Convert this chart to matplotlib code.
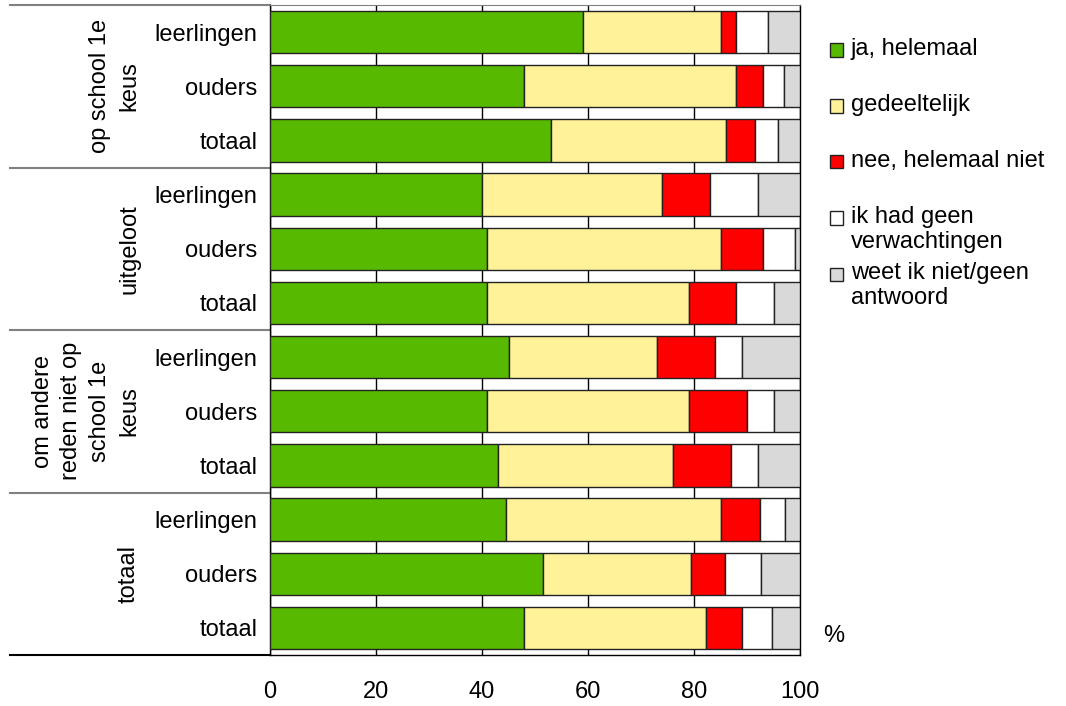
import numpy as np
import matplotlib
matplotlib.use("Agg")
import matplotlib.pyplot as plt
from matplotlib.patches import Rectangle
from matplotlib.lines import Line2D
from matplotlib.transforms import blended_transform_factory

plt.rcParams['font.family'] = ['Liberation Sans', 'DejaVu Sans']

# data (percentages, top to bottom)
groepen = ["op school 1e\nkeus", "uitgeloot", "om andere\nreden niet op\nschool 1e\nkeus", "totaal"]
rijen = ["leerlingen", "ouders", "totaal"] * 4
reeksen = ["ja, helemaal", "gedeeltelijk", "nee, helemaal niet",
           "ik had geen\nverwachtingen", "weet ik niet/geen\nantwoord"]
ja = [59, 48, 53, 40, 41, 41, 45, 41, 43, 44.6, 51.5, 47.9]
gedeeltelijk = [26, 40, 33, 34, 44, 38, 28, 38, 33, 40.5, 28, 34.3]
nee = [3, 5, 5.6, 9, 8, 9, 11, 11, 11, 7.3, 6.3, 6.9]
geen_verw = [6, 4, 4.2, 9, 6, 7, 5, 5, 5, 4.7, 6.8, 5.6]
weet_niet = [6, 3, 4.2, 8, 1, 5, 11, 5, 8, 2.9, 7.4, 5.3]
kleuren = ["#58BA00", "#FFF299", "#FF0000", "#FFFFFF", "#D9D9D9"]
xticks = [0, 20, 40, 60, 80, 100]

reeks_waarden = [ja, gedeeltelijk, nee, geen_verw, weet_niet]

fig = plt.figure(figsize=(10.66, 7.06), dpi=100)
W, H = 1066, 706
ax = fig.add_axes([270 / W, 1 - 655 / H, 530 / W, 650 / H])

y = np.arange(len(rijen))
links = np.zeros(len(rijen))
for waarden, kleur in zip(reeks_waarden, kleuren):
    waarden = np.array(waarden, dtype=float)
    ax.barh(y, waarden, left=links, height=0.78, color=kleur,
            edgecolor="#222222", linewidth=1.0, zorder=3)
    links += waarden

ax.set_xlim(0, 100)
ax.set_ylim(len(rijen) - 0.5, -0.5)
ax.set_xticks(xticks)
ax.set_xticklabels([str(t) for t in xticks], fontsize=17)
ax.set_yticks(y)
ax.set_yticklabels(rijen, fontsize=17)
ax.tick_params(axis='both', length=0)
ax.tick_params(axis='x', pad=19)
ax.tick_params(axis='y', pad=9)
ax.grid(axis='x', color='black', linewidth=1, zorder=0)
ax.set_axisbelow(True)
for kant in ['left', 'right', 'bottom']:
    ax.spines[kant].set_color('black')
    ax.spines[kant].set_linewidth(1)
ax.spines['top'].set_color('#808080')

# group separators in the label panel
tr = blended_transform_factory(fig.transFigure, ax.transData)
for grens in [-0.5, 2.5, 5.5, 8.5]:
    ax.add_line(Line2D([10 / W, 270 / W], [grens, grens], transform=tr,
                       color='#808080', linewidth=1.5, clip_on=False))
ax.add_line(Line2D([10 / W, 270 / W], [11.5, 11.5], transform=tr,
                   color='black', linewidth=1.5, clip_on=False))

# group labels
for i, naam in enumerate(groepen):
    ax.text(140 / W, 3 * i + 1, naam, transform=tr, rotation=90,
            ha='right', va='center', multialignment='center', fontsize=17,
            linespacing=1.4)

ax.text(823 / W, 11.15, "%", transform=tr, ha='left', va='center', fontsize=17)

# legend
for i, (naam, kleur) in enumerate(zip(reeksen, kleuren)):
    yc = 1 - (50 + 56 * i) / H
    fig.patches.append(Rectangle((830 / W, yc - 6.5 / H), 13 / W, 13 / H,
                                 transform=fig.transFigure, facecolor=kleur,
                                 edgecolor='#222222', linewidth=1))
    fig.text(851 / W, yc + 12 / H, naam, ha='left', va='top', fontsize=17,
             linespacing=1.2)

fig.savefig("out.png", dpi=100)
